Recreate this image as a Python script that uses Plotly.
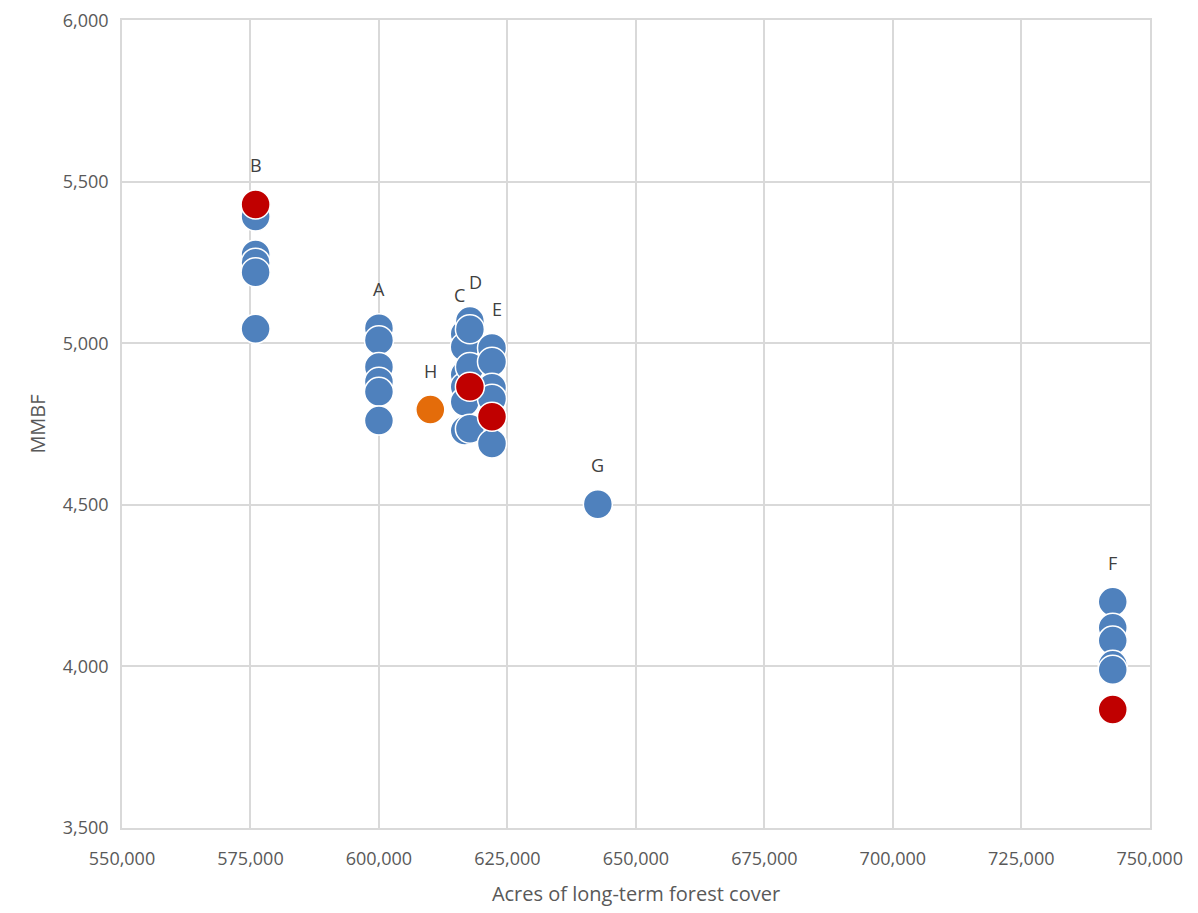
import plotly.graph_objects as go

# blue scenario points
blue_x = [576000]*5 + [600000]*6 + [616700]*6 + [617700]*4 + [622000]*5 + [642600] + [742800]*5
blue_y = [5393, 5275, 5250, 5220, 5045,
          5047, 5010, 4927, 4881, 4850, 4761,
          5029, 4989, 4903, 4866, 4819, 4730,
          5069, 5044, 4927, 4736,
          4986, 4943, 4863, 4829, 4690,
          4502,
          4200, 4120, 4080, 4005, 3990]

red_x = [576000, 617700, 622000, 742800]
red_y = [5430, 4866, 4773, 3867]

orange_x = [610000]
orange_y = [4795]

label_text = ["B", "A", "C", "D", "E", "G", "F", "H"]
label_x = [576000, 600000, 615700, 618800, 623000, 642600, 742800, 610000]
label_y = [5430, 5047, 5029, 5069, 4986, 4502, 4200, 4795]

blue = "#4f81bd"
red = "#c00000"
orange = "#e46c0a"

fig = go.Figure()
for xs, ys, c in [(blue_x, blue_y, blue), (red_x, red_y, red), (orange_x, orange_y, orange)]:
    fig.add_trace(go.Scatter(x=xs, y=ys, mode="markers",
                             marker=dict(size=29, color=c, line=dict(color="white", width=1.5)),
                             showlegend=False))

for t, x, y in zip(label_text, label_x, label_y):
    fig.add_annotation(x=x, y=y, text=t, showarrow=False, yshift=39,
                       font=dict(size=18, color="#404040"))

axis = dict(showgrid=True, gridcolor="#d9d9d9", gridwidth=1.5, zeroline=False,
            showline=True, mirror=True, linecolor="#d9d9d9", linewidth=1.5,
            tickformat=",", tickfont=dict(size=18, color="#595959"), ticks="",
            ticklabeloverflow="allow")
fig.update_xaxes(axis, range=[550000, 750050], dtick=25000, tick0=550000, ticklabelstandoff=14,
                 title=dict(text="Acres of long-term forest cover", font=dict(size=20, color="#595959"),
                            standoff=18))
fig.update_yaxes(axis, range=[3500, 6001], dtick=500, tick0=3500, ticklabelstandoff=8,
                 title=dict(text="MMBF", font=dict(size=20, color="#595959"), standoff=12))
fig.update_layout(width=1198, height=913, plot_bgcolor="white", paper_bgcolor="white",
                  font=dict(family="Open Sans"),
                  margin=dict(l=114, r=56, t=12, b=93, autoexpand=False))
fig.write_html("out.html")
